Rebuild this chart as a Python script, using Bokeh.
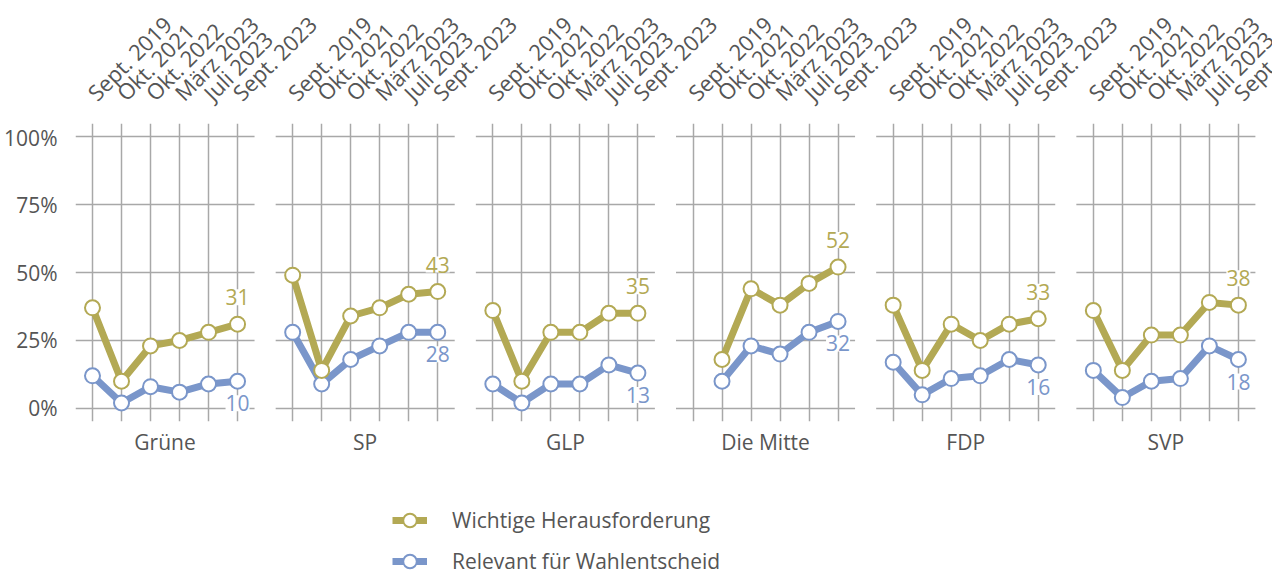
import math
from bokeh.plotting import figure
from bokeh.layouts import column
from bokeh.core.properties import value
from bokeh.models import (FixedTicker, LinearAxis, Range1d, ColumnDataSource, LabelSet,
                          Legend, LegendItem, PrintfTickFormatter, Grid)
from bokeh.embed import file_html
from bokeh.resources import INLINE

nan = float("nan")

parties = ["Grüne", "SP", "GLP", "Die Mitte", "FDP", "SVP"]
dates = ["Sept. 2019", "Okt. 2021", "Okt. 2022", "März 2023", "Juli 2023", "Sept. 2023"]

# Wichtige Herausforderung (%)
wichtig_gruene = [37, 10, 23, 25, 28, 31]
wichtig_sp = [49, 14, 34, 37, 42, 43]
wichtig_glp = [36, 10, 28, 28, 35, 35]
wichtig_mitte = [nan, 18, 44, 38, 46, 52]
wichtig_fdp = [38, 14, 31, 25, 31, 33]
wichtig_svp = [36, 14, 27, 27, 39, 38]

# Relevant für Wahlentscheid (%)
relevant_gruene = [12, 2, 8, 6, 9, 10]
relevant_sp = [28, 9, 18, 23, 28, 28]
relevant_glp = [9, 2, 9, 9, 16, 13]
relevant_mitte = [nan, 10, 23, 20, 28, 32]
relevant_fdp = [17, 5, 11, 12, 18, 16]
relevant_svp = [14, 4, 10, 11, 23, 18]

wichtig = [wichtig_gruene, wichtig_sp, wichtig_glp, wichtig_mitte, wichtig_fdp, wichtig_svp]
relevant = [relevant_gruene, relevant_sp, relevant_glp, relevant_mitte, relevant_fdp, relevant_svp]

y_ticks = [0, 25, 50, 75, 100]

GOLD = "#b3a954"
BLUE = "#7a96ca"
TXT = "#555555"
GRID = "#a8a8a8"
FONT = "Open Sans"
FS = "21px"
FS_DATE = "22px"

W = 1272
LEFT = 75                      # left border (y-axis labels)
FRAME_W, FRAME_H = W - LEFT, 298
HEAD_H = 123
MAIN_H = FRAME_H + 49
LEG_H = 572 - HEAD_H - MAIN_H

STEP = 10      # distance between dates inside a panel (x units)
STRIDE = 69    # distance between panels (x units)
PAD = 5.86
Y0, Y1 = -4.8, 104.8
PX_PER_UNIT = 2.901

xs = [[pi * STRIDE + i * STEP for i in range(len(dates))] for pi in range(len(parties))]
all_x = [x for row in xs for x in row]
centers = [pi * STRIDE + (len(dates) - 1) * STEP // 2 for pi in range(len(parties))]

X0 = -PAD
X1 = X0 + FRAME_W / PX_PER_UNIT
xr = Range1d(X0, X1)

# ---------- header with rotated date labels (shares the x scale) ----------
head = figure(width=W, height=HEAD_H, x_range=xr, y_range=Range1d(0, HEAD_H),
              output_backend="svg", toolbar_location=None,
              x_axis_location=None, y_axis_location=None,
              min_border_left=LEFT, min_border_right=0, min_border_top=0, min_border_bottom=0)
head.outline_line_color = None
head.grid.grid_line_color = None
src_d = ColumnDataSource(dict(x=all_x, y=[HEAD_H - 102] * len(all_x),
                              t=[dates[i % len(dates)] for i in range(len(all_x))]))
head.add_layout(LabelSet(x="x", y="y", text="t", source=src_d, angle=math.pi / 4,
                         x_offset=5, text_align="left", text_baseline="alphabetic",
                         text_font=value(FONT), text_font_size=FS_DATE, text_color=TXT))

# ---------- main chart ----------
p = figure(frame_width=FRAME_W, frame_height=FRAME_H,
           x_range=xr, y_range=Range1d(Y0, Y1),
           output_backend="svg", toolbar_location=None,
           x_axis_location=None, y_axis_location="left",
           min_border_left=LEFT, min_border_top=0, min_border_bottom=MAIN_H - FRAME_H,
           min_border_right=0)
p.outline_line_color = None

yax = p.yaxis[0]
yax.ticker = FixedTicker(ticks=y_ticks)
yax.formatter = PrintfTickFormatter(format="%d%%")
yax.axis_line_color = None
yax.major_tick_line_color = None
yax.minor_tick_line_color = None
yax.major_label_text_font = FONT
yax.major_label_text_font_size = FS
yax.major_label_text_color = TXT
yax.major_label_standoff = 12
p.ygrid.grid_line_color = None
p.xgrid.grid_line_color = None

p.add_layout(Grid(dimension=0, ticker=FixedTicker(ticks=all_x),
                  grid_line_color=GRID, grid_line_width=1.5))

hx0, hx1, hy = [], [], []
for pi in range(len(parties)):
    for t in y_ticks:
        hx0.append(pi * STRIDE - PAD)
        hx1.append(pi * STRIDE + (len(dates) - 1) * STEP + PAD)
        hy.append(t)
p.segment(x0=hx0, x1=hx1, y0=hy, y1=hy, line_color=GRID, line_width=1.5, level="underlay")

bot = LinearAxis(ticker=FixedTicker(ticks=centers),
                 major_label_overrides={c: parties[i] for i, c in enumerate(centers)})
bot.axis_line_color = None
bot.major_tick_line_color = None
bot.minor_tick_line_color = None
bot.major_label_text_font = FONT
bot.major_label_text_font_size = FS
bot.major_label_text_color = TXT
bot.major_label_standoff = 0
p.add_layout(bot, "below")

for pi in range(len(parties)):
    p.line(xs[pi], relevant[pi], line_color=BLUE, line_width=7, line_join="round")
    p.line(xs[pi], wichtig[pi], line_color=GOLD, line_width=7, line_join="round")
for pi in range(len(parties)):
    p.scatter(xs[pi], relevant[pi], marker="circle", size=15, fill_color="white",
              line_color=BLUE, line_width=2)
for pi in range(len(parties)):
    p.scatter(xs[pi], wichtig[pi], marker="circle", size=15, fill_color="white",
              line_color=GOLD, line_width=2)

last_x = [row[-1] for row in xs]
src_g = ColumnDataSource(dict(x=last_x, y=[w[-1] for w in wichtig],
                              t=[str(w[-1]) for w in wichtig]))
src_b = ColumnDataSource(dict(x=last_x, y=[r[-1] for r in relevant],
                              t=[str(r[-1]) for r in relevant]))
p.add_layout(LabelSet(x="x", y="y", text="t", source=src_g, y_offset=27,
                      text_align="center", text_baseline="middle",
                      text_font=value(FONT), text_font_size=FS, text_color=GOLD,
                      background_fill_color="white"))
p.add_layout(LabelSet(x="x", y="y", text="t", source=src_b, y_offset=-22,
                      text_align="center", text_baseline="middle",
                      text_font=value(FONT), text_font_size=FS, text_color=BLUE,
                      background_fill_color="white"))

# ---------- legend strip ----------
leg = figure(width=W, height=LEG_H, x_range=Range1d(0, 1), y_range=Range1d(0, 1),
             output_backend="svg", toolbar_location=None,
             x_axis_location=None, y_axis_location=None,
             min_border_left=LEFT, min_border_right=0, min_border_top=0, min_border_bottom=0)
leg.outline_line_color = None
leg.grid.grid_line_color = None
g_line = leg.line([nan], [nan], line_color=GOLD, line_width=7)
g_dot = leg.scatter([nan], [nan], marker="circle", size=15, fill_color="white",
                    line_color=GOLD, line_width=2)
b_line = leg.line([nan], [nan], line_color=BLUE, line_width=7)
b_dot = leg.scatter([nan], [nan], marker="circle", size=15, fill_color="white",
                    line_color=BLUE, line_width=2)
legend = Legend(items=[LegendItem(label="Wichtige Herausforderung", renderers=[g_line, g_dot]),
                       LegendItem(label="Relevant für Wahlentscheid", renderers=[b_line, b_dot])],
                location=(392 - LEFT, -6), orientation="vertical",
                glyph_width=35, glyph_height=34, label_standoff=25, spacing=7,
                padding=0, margin=0, border_line_color=None, background_fill_alpha=0,
                label_text_font=FONT, label_text_font_size=FS, label_text_color=TXT)
leg.add_layout(legend)

layout = column(head, p, leg, spacing=0)
open("out.html", "w").write(file_html(layout, INLINE))
